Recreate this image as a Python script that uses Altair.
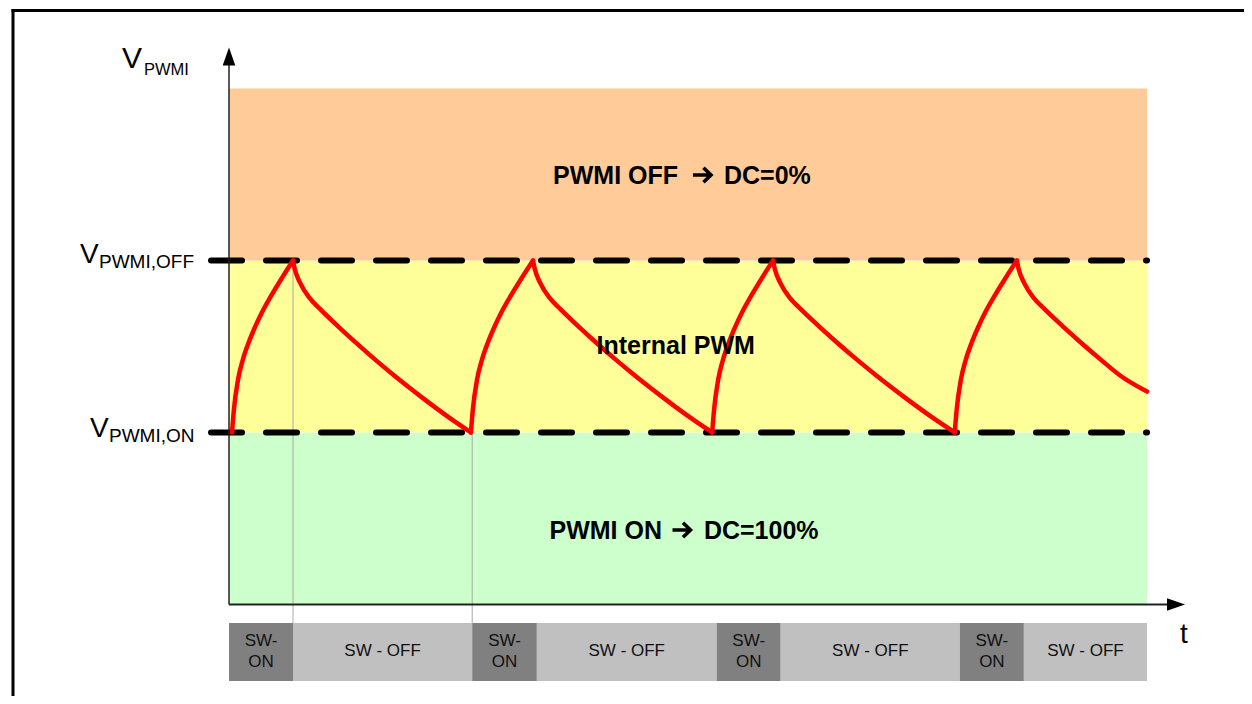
import altair as alt
import pandas as pd

# ---------------- data ----------------
# time in units of one SW-ON interval, voltage in band units (0 = ground, 1 = V_PWMI,ON, 2 = V_PWMI,OFF)
V_ON = 1.0
V_OFF = 2.0
T_END = 14.344          # right edge of the coloured bands / timeline

band_lo = [0.0, 1.0, 2.0]
band_hi = [1.0, 2.0, 3.0]
band_colors = ["#CCFFCC", "#FFFF99", "#FFCC99"]

# band captions, split around the arrow symbol
cap_left = ["PWMI ON", "PWMI OFF"]
cap_right = ["DC=100%", "DC=0%"]
cap_left_end_t = [6.766, 7.016]
cap_arrow_t = [7.078, 7.398]
cap_right_start_t = [7.42, 7.734]
cap_v = [0.381, 2.443]
cap_arrow_v = [0.433, 2.497]
mid_label = "Internal PWM"
mid_label_t = 6.98
mid_label_v = 1.456

sw_kind = ["ON", "OFF", "ON", "OFF", "ON", "OFF", "ON", "OFF"]
sw_start = [0.0, 1.0, 3.8, 4.81, 7.62, 8.62, 11.42, 12.42]
sw_end = [1.0, 3.8, 4.81, 7.62, 8.62, 11.42, 12.42, T_END]
BOX_TOP = -0.1076
BOX_BOTTOM = -0.4448

# red capacitor voltage: start of each charge, peak of each charge
curve_low_t = [0.047, 3.78, 7.55, 11.34]
curve_peak_t = [1.0, 4.75, 8.5, 12.31]
charge_frac = [0.0, 0.03, 0.10, 0.175, 0.27, 0.38, 0.50, 0.65, 0.83, 1.0]
charge_level = [0.0, 0.13, 0.31, 0.42, 0.52, 0.615, 0.705, 0.80, 0.905, 1.0]
discharge_frac = [0.0, 0.01, 0.04, 0.095, 0.15, 0.25, 0.35, 0.46, 0.57, 0.73, 0.88, 1.0]
discharge_level = [1.0, 0.95, 0.87, 0.78, 0.72, 0.62, 0.525, 0.425, 0.33, 0.20, 0.085, 0.0]
last_discharge_len = 2.84
last_exit_level = 0.238

gray_t = [1.0, 3.8]
gray_top = [V_OFF, V_ON]

# ---------------- build tables ----------------
bands = pd.DataFrame({"v0": band_lo, "v1": band_hi, "col": band_colors, "t0": 0.0, "t1": T_END})

boxes = pd.DataFrame({
    "t0": sw_start, "t1": sw_end,
    "col": ["#808080" if k == "ON" else "#C0C0C0" for k in sw_kind],
    "v0": BOX_TOP, "v1": BOX_BOTTOM,
})
sw_txt = []
for k, a, b in zip(sw_kind, sw_start, sw_end):
    c = (a + b) / 2
    if k == "ON":
        sw_txt.append({"txt": "SW-", "t": c, "v": -0.2413})
        sw_txt.append({"txt": "ON", "t": c, "v": -0.3634})
    else:
        sw_txt.append({"txt": "SW - OFF", "t": c, "v": -0.2994})
sw_txt = pd.DataFrame(sw_txt)

rows = []
for i, (lo, pk) in enumerate(zip(curve_low_t, curve_peak_t)):
    for f, l in zip(charge_frac, charge_level):
        rows.append({"seg": f"c{i}", "o": len(rows), "t": lo + f * (pk - lo), "v": V_ON + l * (V_OFF - V_ON)})
    if i + 1 < len(curve_low_t):
        end = curve_low_t[i + 1]
        for f, l in zip(discharge_frac, discharge_level):
            rows.append({"seg": f"d{i}", "o": len(rows), "t": pk + f * (end - pk), "v": V_ON + l * (V_OFF - V_ON)})
    else:
        for f, l in zip(discharge_frac, discharge_level):
            t = pk + f * last_discharge_len
            if t < T_END:
                rows.append({"seg": f"d{i}", "o": len(rows), "t": t, "v": V_ON + l * (V_OFF - V_ON)})
        rows.append({"seg": f"d{i}", "o": len(rows), "t": T_END, "v": V_ON + last_exit_level})
curve = pd.DataFrame(rows)

dashes = pd.DataFrame({"t0": -0.281, "t1": T_END, "v": [V_ON, V_OFF]})
grays = pd.DataFrame({"t": gray_t, "v0": gray_top, "v1": BOX_TOP})

ylabels = pd.DataFrame({
    "txt": ["V", "PWMI", "V", "PWMI,OFF", "V", "PWMI,ON"],
    "t": [-1.672, -1.33, -2.328, -2.031, -2.172, -1.875],
    "v": [3.1174, 3.0785, 1.9837, 1.9547, 0.9756, 0.9465],
    "fs": [30, 16.5, 28, 19, 28, 19],
})

cap_l = pd.DataFrame({"txt": cap_left, "t": cap_left_end_t, "v": cap_v})
cap_r = pd.DataFrame({"txt": cap_right, "t": cap_right_start_t, "v": cap_v})
cap_a = pd.DataFrame({"t": cap_arrow_t, "v": cap_arrow_v})
mid = pd.DataFrame({"txt": [mid_label], "t": [mid_label_t], "v": [mid_label_v]})

# ---------------- scales ----------------
xs = alt.Scale(domain=[-3.453125, 15.859375], nice=False, zero=False)
ys = alt.Scale(domain=[-0.53198, 3.46802], nice=False, zero=False)


def X(f):
    return alt.X(f, type="quantitative", scale=xs, axis=None)


def Y(f):
    return alt.Y(f, type="quantitative", scale=ys, axis=None)


FONT = "Liberation Sans"

band_layer = alt.Chart(bands).mark_rect().encode(
    x=X("t0"), x2="t1", y=Y("v0"), y2="v1", color=alt.Color("col:N", scale=None))

gray_layer = alt.Chart(grays).mark_rule(color="#A8A8A8", strokeWidth=1).encode(
    x=X("t"), y=Y("v0"), y2="v1")

dash_layer = alt.Chart(dashes).mark_rule(color="black", strokeWidth=6, strokeDash=[31, 24],
                                         strokeCap="round").encode(
    x=X("t0"), x2="t1", y=Y("v"))

curve_layer = alt.Chart(curve).mark_line(color="#FF0000", strokeWidth=4.5, interpolate="monotone",
                                         strokeCap="round", strokeJoin="round").encode(
    x=X("t"), y=Y("v"), detail="seg:N", order="o:Q")

axes_df = pd.DataFrame({"t0": [0.0, 0.0], "t1": [0.0, 14.67], "v0": [0.0, 0.0], "v1": [3.148, 0.0],
                        "w": [1.5, 2.0]})
axis_layer = alt.Chart(axes_df).mark_rule(color="#222222").encode(
    x=X("t0"), x2="t1", y=Y("v0"), y2="v1", strokeWidth=alt.StrokeWidth("w:Q", scale=None))

yarrow = alt.Chart(pd.DataFrame({"t": [0.0], "v": [3.186]})).mark_point(
    shape="M0,-1L0.7,1L-0.7,1Z", size=324, filled=True, color="black", opacity=1).encode(
    x=X("t"), y=Y("v"))
xarrow = alt.Chart(pd.DataFrame({"t": [14.797], "v": [0.0]})).mark_point(
    shape="M1,0L-1,0.7L-1,-0.7Z", size=324, filled=True, color="black", opacity=1).encode(
    x=X("t"), y=Y("v"))

box_layer = alt.Chart(boxes).mark_rect().encode(
    x=X("t0"), x2="t1", y=Y("v0"), y2="v1", color=alt.Color("col:N", scale=None))

sw_text = alt.Chart(sw_txt).mark_text(font=FONT, fontSize=17, color="#111111", align="center",
                                      baseline="alphabetic").encode(
    x=X("t"), y=Y("v"), text="txt:N")

bold = dict(font=FONT, fontSize=25, fontWeight="bold", color="black", baseline="alphabetic")
capl_text = alt.Chart(cap_l).mark_text(align="right", **bold).encode(x=X("t"), y=Y("v"), text="txt:N")
capr_text = alt.Chart(cap_r).mark_text(align="left", **bold).encode(x=X("t"), y=Y("v"), text="txt:N")
cap_arrow = alt.Chart(cap_a).mark_point(
    shape="M-0.95,0L0.8,0M0.1,-0.72L0.85,0L0.1,0.72", size=400, filled=False, color="black",
    strokeWidth=3.6, opacity=1, strokeCap="butt", strokeJoin="miter").encode(x=X("t"), y=Y("v"))
mid_text = alt.Chart(mid).mark_text(align="center", **bold).encode(x=X("t"), y=Y("v"), text="txt:N")

ylab_text = alt.Chart(ylabels).mark_text(font=FONT, color="black", align="left",
                                         baseline="alphabetic").encode(
    x=X("t"), y=Y("v"), text="txt:N", size=alt.Size("fs:Q", scale=None))

t_text = alt.Chart(pd.DataFrame({"txt": ["t"], "t": [14.92], "v": [-0.224]})).mark_text(
    font=FONT, fontSize=28, color="black", align="center", baseline="alphabetic").encode(
    x=X("t"), y=Y("v"), text="txt:N")

frame_df = pd.DataFrame({"t0": [-3.375, -3.375], "t1": [15.86, -3.375],
                         "v0": [3.4535, 3.4535], "v1": [3.4535, -0.532]})
frame_layer = alt.Chart(frame_df).mark_rule(color="black", strokeWidth=3, strokeCap="square").encode(
    x=X("t0"), x2="t1", y=Y("v0"), y2="v1")

chart = alt.layer(
    band_layer, gray_layer, dash_layer, curve_layer, axis_layer, yarrow, xarrow,
    box_layer, sw_text, capl_text, capr_text, cap_arrow, mid_text, ylab_text, t_text, frame_layer,
).properties(
    width=1236, height=688, padding=0, autosize=alt.AutoSizeParams(type="none"),
    background="white",
).configure_view(stroke=None)

chart.save("out.html", embed_options={"renderer": "svg", "actions": False})
